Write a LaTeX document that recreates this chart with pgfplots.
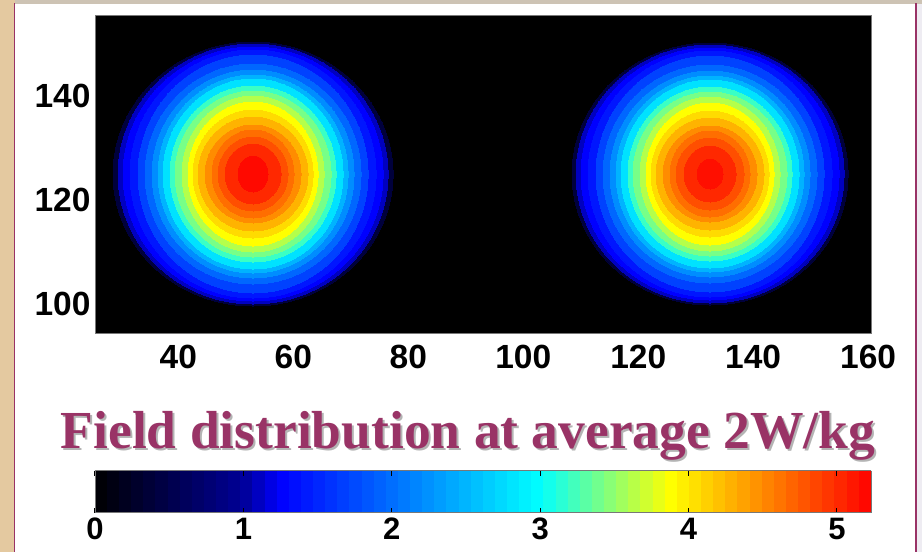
\documentclass[border=0pt]{standalone}
\usepackage{fontspec}
\setmainfont{Liberation Sans}
\newfontfamily\titlefont{Liberation Serif}
\usepackage{pgfplots}
\usepackage{pgfplotstable}
\pgfplotsset{compat=1.18}
\definecolor{slidetan}{RGB}{228,201,160}
\definecolor{slidetop}{RGB}{205,195,180}
\definecolor{slideright}{RGB}{238,236,242}
\definecolor{slidepurple}{RGB}{153,51,102}
\definecolor{titleshadow}{RGB}{180,180,180}
\definecolor{framegray}{RGB}{120,120,120}

% radial bands: value v, horizontal radius rh (pt), vertical radius rv (pt)
\pgfplotstableread{
x y v rh rv
53 125 0.40 140 132
53 125 1.10 135 130
53 125 1.25 130 127
53 125 1.40 123 124
53 125 1.70 115 119
53 125 1.96 108 110
53 125 2.22 101 104
53 125 2.48 95 99
53 125 2.80 90 95
53 125 3.20 83 88
53 125 3.41 78 83
53 125 3.62 71 78
53 125 3.88 65 72
53 125 4.07 60 64
53 125 4.28 55 57
53 125 4.49 48 49
53 125 4.65 41 44
53 125 4.81 35 37
53 125 5.02 28 30
53 125 5.18 15 18
}\leftcircle

\pgfplotstableread{
x y v rh rv
132.5 125 0.40 138 131
132.5 125 1.10 134 129
132.5 125 1.25 129 126
132.5 125 1.40 122 123
132.5 125 1.70 114 118
132.5 125 1.96 107 109
132.5 125 2.22 100 103
132.5 125 2.48 94 98
132.5 125 2.80 89 94
132.5 125 3.20 82 87
132.5 125 3.41 77 82
132.5 125 3.62 70 77
132.5 125 3.88 64 71
132.5 125 4.07 59 63
132.5 125 4.28 54 56
132.5 125 4.49 47 48
132.5 125 4.65 40 43
132.5 125 4.81 34 36
132.5 125 5.02 26 28
132.5 125 5.15 13 15
}\rightcircle

\pgfplotsset{
  discs/.style={
    scatter, only marks, mark=*,
    point meta=\thisrow{v},
    scatter/use mapped color={draw=mapped color, fill=mapped color},
    mark options={line width=0pt},
    visualization depends on={\thisrow{rh} \as \radh},
    visualization depends on={\thisrow{rv} \as \radv},
    scatter/@pre marker code/.append style={/tikz/mark size=\radv, /tikz/xscale=\radh/\radv},
  }
}

\begin{document}
\begin{tikzpicture}
% slide background (1pt = 1 px of the reference)
\path[use as bounding box] (-95pt,-219pt) rectangle (827pt,333pt);
\fill[slidetan] (-95pt,-219pt) rectangle (827pt,333pt);
\fill[slidetop] (-80pt,329pt) rectangle (827pt,333pt);
\fill[slideright] (822pt,-219pt) rectangle (827pt,329pt);
\fill[white] (-80pt,-219pt) rectangle (820pt,329pt);
\draw[slidepurple, line width=1.4pt] (-80.5pt,-219pt) -- (-80.5pt,329.5pt);
\draw[slidepurple, line width=2pt] (821pt,-219pt) -- (821pt,329.5pt);

\begin{axis}[
  at={(0pt,0pt)}, anchor=south west,
  scale only axis, width=776pt, height=318pt,
  xmin=25.5, xmax=160.5, ymin=94.5, ymax=155.5,
  xtick={40,60,80,100,120,140,160}, ytick={100,120,140},
  axis background/.style={fill=black},
  axis line style={draw=framegray, line width=0.8pt},
  tick style={draw=none},
  /pgf/number format/assume math mode=true,
  ticklabel style={font=\fontsize{33.5}{33.5}\selectfont\bfseries},
  xticklabel style={yshift=-9pt},
  yticklabel style={xshift=-1pt},
  colormap={sar}{rgb255(0cm)=(0,0,0); rgb255(1cm)=(0,0,150); rgb255(1.25cm)=(0,0,255); rgb255(3cm)=(0,255,255); rgb255(3.88cm)=(255,255,0); rgb255(5.23cm)=(255,0,0)},
  point meta min=0, point meta max=5.23,
  colorbar horizontal,
  colorbar sampled,
  colorbar style={
    at={(parent axis.south west)}, anchor=north west, yshift=-129pt,
    scale only axis, width=776pt, height=42pt,
    samples=65,
    xtick={0,1,2,3,4,5},
    xtick pos=both, xticklabel pos=lower,
    tick align=inside, major tick length=5pt,
    xtick style={draw=black, line width=1pt},
    axis line style={draw=framegray, line width=0.8pt},
    /pgf/number format/assume math mode=true,
    xticklabel style={font=\fontsize{31}{31}\selectfont\bfseries, yshift=-2pt},
  },
]
\addplot[discs] table {\leftcircle};
\addplot[discs] table {\rightcircle};
\end{axis}

\node[anchor=base, text=titleshadow, inner sep=0pt] at (375pt,-117pt)
  {\titlefont\bfseries\fontsize{53.5}{53.5}\selectfont Field distribution at average 2W/kg};
\node[anchor=base, text=slidepurple, inner sep=0pt] at (373pt,-115pt)
  {\titlefont\bfseries\fontsize{53.5}{53.5}\selectfont Field distribution at average 2W/kg};
\end{tikzpicture}
\end{document}
